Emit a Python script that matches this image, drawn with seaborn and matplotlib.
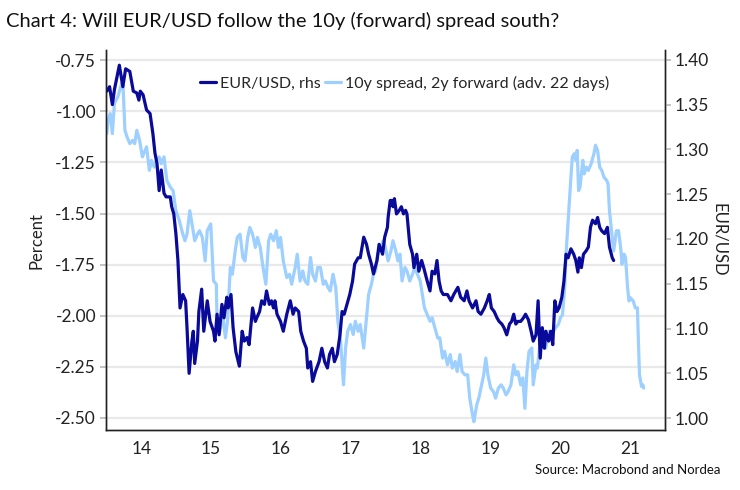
import numpy as np
import pandas as pd
import matplotlib
matplotlib.use("Agg")
import matplotlib.pyplot as plt
import matplotlib.dates as mdates
import seaborn as sns

# --- DATA (x in decimal years) ---
EURUSD_T = [2014.00, 2014.04, 2014.08, 2014.11, 2014.18, 2014.23, 2014.27, 2014.33, 2014.38, 2014.43,
            2014.46, 2014.48, 2014.52, 2014.57, 2014.62, 2014.66, 2014.69, 2014.72, 2014.75, 2014.78,
            2014.82, 2014.85, 2014.91, 2014.93, 2014.96, 2014.99, 2015.02, 2015.05, 2015.09, 2015.13,
            2015.15, 2015.18, 2015.22, 2015.24, 2015.26, 2015.30, 2015.32, 2015.36, 2015.39, 2015.44,
            2015.48, 2015.53, 2015.55, 2015.58, 2015.61, 2015.65, 2015.68, 2015.72, 2015.74, 2015.78,
            2015.81, 2015.85, 2015.90, 2015.94, 2015.97, 2016.01, 2016.04, 2016.09, 2016.13, 2016.15,
            2016.19, 2016.22, 2016.26, 2016.29, 2016.33, 2016.36, 2016.39, 2016.41, 2016.44, 2016.49,
            2016.53, 2016.58, 2016.63, 2016.67, 2016.70, 2016.75, 2016.78, 2016.82, 2016.86, 2016.88,
            2016.92, 2016.95, 2016.99, 2017.04, 2017.08, 2017.12, 2017.16, 2017.19, 2017.23, 2017.26,
            2017.30, 2017.34, 2017.37, 2017.40, 2017.44, 2017.48, 2017.52, 2017.55, 2017.60, 2017.63,
            2017.68, 2017.72, 2017.75, 2017.79, 2017.82, 2017.87, 2017.90, 2017.95, 2017.98, 2018.02,
            2018.03, 2018.06, 2018.08, 2018.10, 2018.12, 2018.15, 2018.19, 2018.22, 2018.25, 2018.28,
            2018.30, 2018.34, 2018.38, 2018.40, 2018.44, 2018.47, 2018.51, 2018.54, 2018.59, 2018.63,
            2018.66, 2018.70, 2018.73, 2018.76, 2018.79, 2018.82, 2018.88, 2018.93, 2018.97, 2019.03,
            2019.07, 2019.12, 2019.16, 2019.19, 2019.24, 2019.29, 2019.32, 2019.36, 2019.41, 2019.45,
            2019.48, 2019.51, 2019.55, 2019.59, 2019.62, 2019.66, 2019.69, 2019.73, 2019.77, 2019.80,
            2019.83, 2019.86, 2019.89, 2019.93, 2019.97, 2020.00, 2020.04, 2020.08, 2020.11, 2020.15,
            2020.18, 2020.21, 2020.24, 2020.27, 2020.29, 2020.33, 2020.36, 2020.39, 2020.42, 2020.45,
            2020.48, 2020.52, 2020.55, 2020.58, 2020.61, 2020.65, 2020.69, 2020.72, 2020.75, 2020.77,
            2020.80, 2020.83, 2020.87, 2020.90, 2020.93, 2020.96, 2021.00, 2021.03, 2021.06, 2021.09,
            2021.13, 2021.17, 2021.20, 2021.24, 2021.26]
EURUSD_V = [1.365, 1.370, 1.350, 1.367, 1.394, 1.370, 1.390, 1.387, 1.365, 1.363,
            1.355, 1.365, 1.361, 1.344, 1.340, 1.318, 1.296, 1.284, 1.254, 1.277,
            1.251, 1.247, 1.247, 1.236, 1.228, 1.206, 1.176, 1.123, 1.138, 1.131,
            1.101, 1.050, 1.086, 1.097, 1.061, 1.086, 1.119, 1.144, 1.097, 1.131,
            1.108, 1.097, 1.086, 1.116, 1.093, 1.127, 1.112, 1.135, 1.123, 1.138,
            1.101, 1.074, 1.058, 1.097, 1.086, 1.090, 1.082, 1.123, 1.108, 1.112,
            1.119, 1.131, 1.127, 1.142, 1.127, 1.131, 1.123, 1.131, 1.116, 1.108,
            1.097, 1.116, 1.131, 1.116, 1.123, 1.119, 1.097, 1.086, 1.078, 1.056,
            1.063, 1.041, 1.052, 1.063, 1.078, 1.063, 1.056, 1.071, 1.078, 1.063,
            1.071, 1.093, 1.119, 1.116, 1.127, 1.138, 1.153, 1.172, 1.179, 1.179,
            1.202, 1.194, 1.183, 1.172, 1.161, 1.176, 1.194, 1.183, 1.202, 1.213,
            1.224, 1.243, 1.243, 1.236, 1.245, 1.228, 1.232, 1.236, 1.228, 1.232,
            1.228, 1.194, 1.183, 1.168, 1.183, 1.164, 1.176, 1.168, 1.153, 1.142,
            1.164, 1.161, 1.176, 1.153, 1.142, 1.138, 1.138, 1.131, 1.138, 1.146,
            1.135, 1.131, 1.142, 1.131, 1.123, 1.131, 1.119, 1.116, 1.123, 1.131,
            1.138, 1.123, 1.119, 1.112, 1.108, 1.105, 1.101, 1.093, 1.105, 1.108,
            1.116, 1.105, 1.108, 1.108, 1.112, 1.116, 1.110, 1.097, 1.086, 1.093,
            1.131, 1.067, 1.101, 1.078, 1.097, 1.086, 1.097, 1.082, 1.131, 1.119,
            1.123, 1.135, 1.153, 1.183, 1.179, 1.189, 1.183, 1.176, 1.163, 1.179,
            1.168, 1.183, 1.187, 1.191, 1.213, 1.221, 1.217, 1.224, 1.213, 1.209,
            1.206, 1.213, 1.191, 1.179, 1.176]

SPREAD_T = [2014.00, 2014.02, 2014.05, 2014.08, 2014.11, 2014.16, 2014.20, 2014.23, 2014.26, 2014.29,
            2014.33, 2014.37, 2014.40, 2014.43, 2014.47, 2014.51, 2014.55, 2014.57, 2014.61, 2014.64,
            2014.68, 2014.71, 2014.75, 2014.78, 2014.82, 2014.86, 2014.91, 2014.95, 2014.99, 2015.04,
            2015.09, 2015.12, 2015.15, 2015.19, 2015.23, 2015.26, 2015.30, 2015.33, 2015.37, 2015.41,
            2015.44, 2015.49, 2015.53, 2015.57, 2015.58, 2015.62, 2015.66, 2015.70, 2015.73, 2015.77,
            2015.80, 2015.84, 2015.87, 2015.91, 2015.95, 2015.98, 2016.02, 2016.05, 2016.09, 2016.13,
            2016.16, 2016.20, 2016.24, 2016.28, 2016.32, 2016.35, 2016.39, 2016.43, 2016.46, 2016.49,
            2016.53, 2016.58, 2016.62, 2016.65, 2016.70, 2016.73, 2016.77, 2016.81, 2016.84, 2016.88,
            2016.92, 2016.95, 2016.99, 2017.02, 2017.06, 2017.10, 2017.13, 2017.17, 2017.20, 2017.24,
            2017.28, 2017.31, 2017.35, 2017.39, 2017.42, 2017.45, 2017.49, 2017.53, 2017.56, 2017.60,
            2017.63, 2017.68, 2017.72, 2017.75, 2017.79, 2017.82, 2017.85, 2017.88, 2017.92, 2017.96,
            2017.99, 2018.03, 2018.07, 2018.10, 2018.14, 2018.17, 2018.20, 2018.23, 2018.27, 2018.30,
            2018.34, 2018.38, 2018.41, 2018.45, 2018.49, 2018.52, 2018.55, 2018.59, 2018.63, 2018.66,
            2018.70, 2018.74, 2018.77, 2018.81, 2018.84, 2018.88, 2018.92, 2018.95, 2018.99, 2019.02,
            2019.06, 2019.09, 2019.13, 2019.17, 2019.20, 2019.24, 2019.26, 2019.30, 2019.33, 2019.37,
            2019.40, 2019.43, 2019.46, 2019.50, 2019.54, 2019.57, 2019.61, 2019.65, 2019.68, 2019.72,
            2019.75, 2019.79, 2019.83, 2019.86, 2019.89, 2019.93, 2019.96, 2019.99, 2020.02, 2020.05,
            2020.09, 2020.11, 2020.15, 2020.17, 2020.20, 2020.22, 2020.26, 2020.29, 2020.33, 2020.36,
            2020.40, 2020.43, 2020.47, 2020.50, 2020.53, 2020.56, 2020.58, 2020.61, 2020.65, 2020.67,
            2020.70, 2020.72, 2020.74, 2020.76, 2020.78, 2020.82, 2020.84, 2020.87, 2020.90, 2020.94,
            2020.98, 2021.00, 2021.03, 2021.06, 2021.09, 2021.12, 2021.16, 2021.18, 2021.20, 2021.24,
            2021.26, 2021.30, 2021.33, 2021.36, 2021.38, 2021.41, 2021.43, 2021.46, 2021.48, 2021.50,
            2021.54, 2021.57, 2021.60, 2021.61, 2021.63, 2021.66, 2021.68, 2021.69]
SPREAD_V = [-1.109, -1.043, -1.011, -1.109, -0.961, -0.928, -0.879, -0.847, -1.093, -1.125,
            -1.158, -1.142, -1.158, -1.093, -1.142, -1.223, -1.191, -1.174, -1.289, -1.240,
            -1.273, -1.240, -1.223, -1.256, -1.223, -1.338, -1.371, -1.388, -1.486, -1.535,
            -1.601, -1.633, -1.601, -1.486, -1.568, -1.633, -1.601, -1.584, -1.617, -1.732,
            -1.584, -1.551, -1.830, -1.846, -2.027, -2.076, -1.994, -2.108, -2.027, -1.764,
            -1.797, -1.683, -1.617, -1.601, -1.715, -1.732, -1.617, -1.568, -1.601, -1.666,
            -1.617, -1.666, -1.764, -1.846, -1.633, -1.601, -1.633, -1.584, -1.666, -1.617,
            -1.732, -1.813, -1.797, -1.846, -1.764, -1.699, -1.830, -1.781, -1.830, -1.846,
            -1.715, -1.797, -1.830, -1.764, -1.764, -1.846, -1.830, -1.863, -1.879, -1.797,
            -1.863, -2.027, -2.125, -2.338, -2.158, -2.076, -2.043, -2.092, -2.027, -2.076,
            -2.043, -2.158, -2.010, -1.896, -1.846, -1.797, -1.781, -1.699, -1.666, -1.633,
            -1.666, -1.732, -1.683, -1.633, -1.683, -1.732, -1.699, -1.830, -1.764, -1.781,
            -1.830, -1.797, -1.764, -1.797, -1.830, -1.896, -1.961, -1.994, -2.027, -2.010,
            -2.059, -2.108, -2.108, -2.207, -2.174, -2.240, -2.190, -2.256, -2.224, -2.273,
            -2.190, -2.273, -2.289, -2.289, -2.403, -2.486, -2.518, -2.436, -2.403, -2.338,
            -2.289, -2.207, -2.289, -2.354, -2.371, -2.403, -2.354, -2.338, -2.354, -2.387,
            -2.371, -2.338, -2.240, -2.289, -2.273, -2.338, -2.304, -2.453, -2.273, -2.174,
            -2.158, -2.338, -2.240, -2.256, -2.158, -2.158, -2.125, -2.158, -2.076, -2.092,
            -2.076, -2.059, -2.043, -2.010, -1.994, -1.863, -1.699, -1.535, -1.322, -1.223,
            -1.207, -1.240, -1.191, -1.388, -1.371, -1.240, -1.306, -1.273, -1.289, -1.256,
            -1.207, -1.166, -1.191, -1.273, -1.289, -1.322, -1.338, -1.355, -1.486, -1.617,
            -1.683, -1.584, -1.584, -1.666, -1.748, -1.699, -1.715, -1.863, -1.928, -1.912,
            -1.928, -1.961, -1.961, -2.076, -2.289, -2.346, -2.338, -2.354]

YEAR_LABELS = ["14", "15", "16", "17", "18", "19", "20", "21"]
LEFT_TICKS = [-0.75, -1.00, -1.25, -1.50, -1.75, -2.00, -2.25, -2.50]
RIGHT_TICKS = [1.00, 1.05, 1.10, 1.15, 1.20, 1.25, 1.30, 1.35, 1.40]

DARK = "#0A0A9A"
LIGHT = "#9DCFFF"


def to_dates(years):
    years = np.asarray(years)
    whole = np.floor(years).astype(int)
    frac = years - whole
    return [pd.Timestamp(f"{y}-01-01") + pd.Timedelta(days=float(f * 365.25)) for y, f in zip(whole, frac)]


df_fx = pd.DataFrame({"date": to_dates(EURUSD_T), "value": EURUSD_V})
df_sp = pd.DataFrame({"date": to_dates(SPREAD_T), "value": SPREAD_V})

sns.set_theme(style="white")
plt.rcParams["font.family"] = ["Lato", "DejaVu Sans"]

fig = plt.figure(figsize=(7.4, 4.9), dpi=100)
ax = fig.add_axes([0.143, 0.122, 0.756, 0.776])
ax2 = ax.twinx()

sns.lineplot(data=df_sp, x="date", y="value", ax=ax, color=LIGHT, linewidth=2.3,
             label="10y spread, 2y forward (adv. 22 days)", legend=False)
sns.lineplot(data=df_fx, x="date", y="value", ax=ax2, color=DARK, linewidth=2.3,
             label="EUR/USD, rhs", legend=False)

ax.set_ylim(-2.56, -0.70)
ax2.set_ylim(0.9865, 1.411)
ax.set_yticks(LEFT_TICKS)
ax.set_yticklabels([f"{v:.2f}" for v in LEFT_TICKS])
ax2.set_yticks(RIGHT_TICKS)
ax2.set_yticklabels([f"{v:.2f}" for v in RIGHT_TICKS])

ax.set_xlim(pd.Timestamp("2013-12-27"), pd.Timestamp("2022-01-01"))
ax.xaxis.set_major_locator(mdates.YearLocator())
ax.xaxis.set_major_formatter(plt.NullFormatter())
ax.xaxis.set_minor_locator(mdates.MonthLocator(bymonth=7, bymonthday=1))
ax.set_xticks(ax.get_xticks(minor=True), minor=True)
ax.set_xticklabels(YEAR_LABELS, minor=True)

ax.grid(axis="y", color="#e9e9e9", linewidth=1.6)
ax.set_axisbelow(True)

for a in (ax, ax2):
    a.spines["top"].set_visible(False)
    for s in ("left", "right", "bottom"):
        a.spines[s].set_color("#222222")
        a.spines[s].set_linewidth(1.0)
    a.set_xlabel("")

ax.tick_params(axis="y", which="major", length=4, color="#bbbbbb", labelsize=12.5, pad=3, labelcolor="#222222")
ax2.tick_params(axis="y", which="major", length=4, color="#bbbbbb", labelsize=12.5, pad=3, labelcolor="#222222")
ax.tick_params(axis="x", which="major", length=5, color="#555555", direction="out")
ax.tick_params(axis="x", which="minor", length=0, labelsize=12.5, pad=8, labelcolor="#222222")

ax.set_ylabel("Percent", fontsize=12, color="#222222", labelpad=8)
ax2.set_ylabel("EUR/USD", fontsize=12, color="#222222", rotation=270, labelpad=13)

h1, l1 = ax2.get_legend_handles_labels()
h2, l2 = ax.get_legend_handles_labels()
ax2.legend(h1 + h2, l1 + l2, loc="upper center", bbox_to_anchor=(0.534, 0.97), ncol=2,
           frameon=False, handlelength=1.0, handletextpad=0.25, columnspacing=0.3, fontsize=11.5)

fig.text(0.008, 0.958, "Chart 4: Will EUR/USD follow the 10y (forward) spread south?",
         fontsize=14.5, color="#111111", va="center", ha="left")
fig.text(0.973, 0.04, "Source: Macrobond and Nordea", fontsize=9.5, color="#111111",
         ha="right", va="center")

fig.savefig("out.png", dpi=100)
